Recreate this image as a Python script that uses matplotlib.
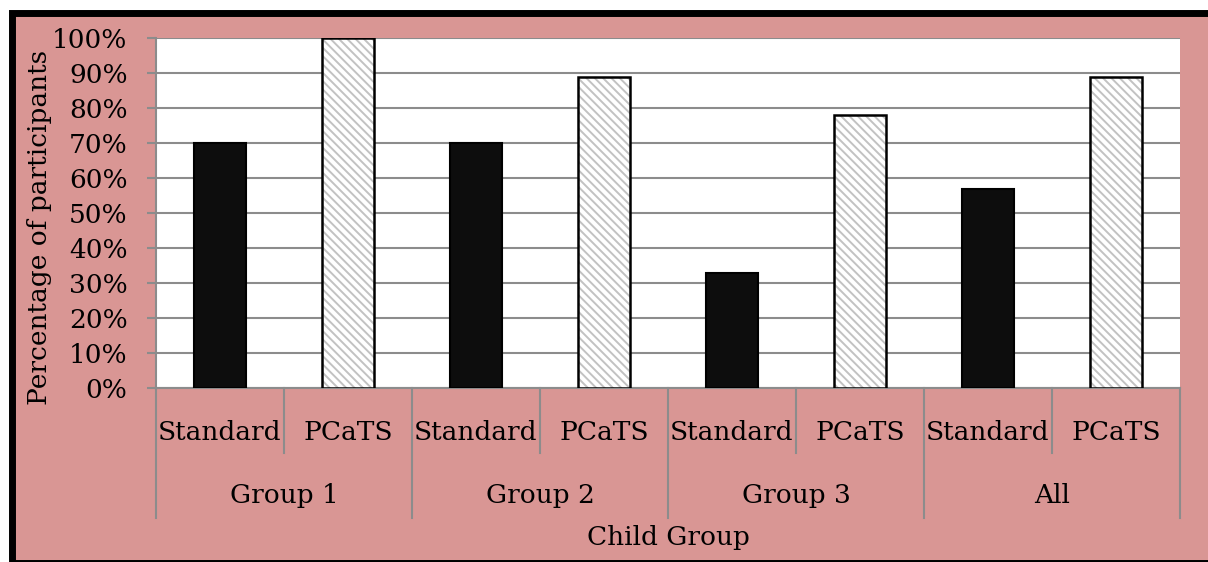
import matplotlib
matplotlib.use("Agg")
import matplotlib.pyplot as plt
from matplotlib.patches import Rectangle
from matplotlib.transforms import blended_transform_factory

groups = ["Group 1", "Group 2", "Group 3", "All"]
conditions = ["Standard", "PCaTS"]
standard = [70, 70, 33, 57]
pcats = [100, 89, 78, 89]

plt.rcParams['font.family'] = 'DejaVu Serif'
plt.rcParams['hatch.color'] = '#c2c2c2'
plt.rcParams['hatch.linewidth'] = 1.4

W, H = 1208, 562
fig = plt.figure(figsize=(W / 100, H / 100), dpi=100, facecolor='white')

# pink chart area with black frame
fig.patches.append(Rectangle((11.5 / W, -1.0 / H), 1.02, (H - 12.0) / H,
                             transform=fig.transFigure, facecolor='#d99694',
                             edgecolor='black', linewidth=5, zorder=-10))

ax = fig.add_axes([156 / W, 1 - 388 / H, 1024 / W, 350 / H])
ax.set_zorder(1)
ax.set_facecolor('white')

xs_std = [2 * i for i in range(len(groups))]
xs_pc = [2 * i + 1 for i in range(len(groups))]
bw = 0.41

ax.bar(xs_std, standard, width=bw, color='#0d0d0d', edgecolor='black', linewidth=1.5, zorder=3)
ax.bar(xs_pc, pcats, width=bw, color='white', hatch='\\\\\\\\', edgecolor='#c2c2c2', linewidth=0, zorder=3)
ax.bar(xs_pc, pcats, width=bw, fill=False, edgecolor='black', linewidth=1.8, zorder=4)

ax.set_xlim(-0.5, 2 * len(groups) - 0.5)
ax.set_ylim(0, 100)
ax.set_yticks(range(0, 101, 10))
ax.set_yticklabels([f"{v}%" for v in range(0, 101, 10)], fontsize=19)
ax.yaxis.grid(True, color='#8c8c8c', linewidth=1.5, zorder=0)
ax.set_axisbelow(True)
ax.tick_params(axis='y', length=6.5, width=1.5, color='#8c8c8c', pad=14)
ax.set_xticks([])
for s in ['top', 'right']:
    ax.spines[s].set_visible(False)
ax.spines['left'].set_color('#8c8c8c')
ax.spines['bottom'].set_color('#8c8c8c')
ax.spines['left'].set_linewidth(1.5)
ax.spines['bottom'].set_linewidth(1.5)

ax.set_ylabel("Percentage of participants", fontsize=19)
ax.yaxis.set_label_coords(-0.1016, 0.46)

# two-level category axis
tr = blended_transform_factory(ax.transData, ax.transAxes)
for k in range(2 * len(groups) + 1):
    x = k - 0.5
    y0 = -0.371 if k % 2 == 0 else -0.186
    ax.plot([x, x], [0, y0], color='#8c8c8c', linewidth=1.5, transform=tr, clip_on=False)

for i, g in enumerate(groups):
    for j, c in enumerate(conditions):
        ax.text(2 * i + j, -0.126, c, transform=tr, ha='center', va='center', fontsize=19)
    ax.text(2 * i + 0.5, -0.306, g, transform=tr, ha='center', va='center', fontsize=19)

ax.text(0.5, -0.426, "Child Group", transform=ax.transAxes, ha='center', va='center', fontsize=19)

fig.savefig("out.png", dpi=100, facecolor=fig.get_facecolor())
